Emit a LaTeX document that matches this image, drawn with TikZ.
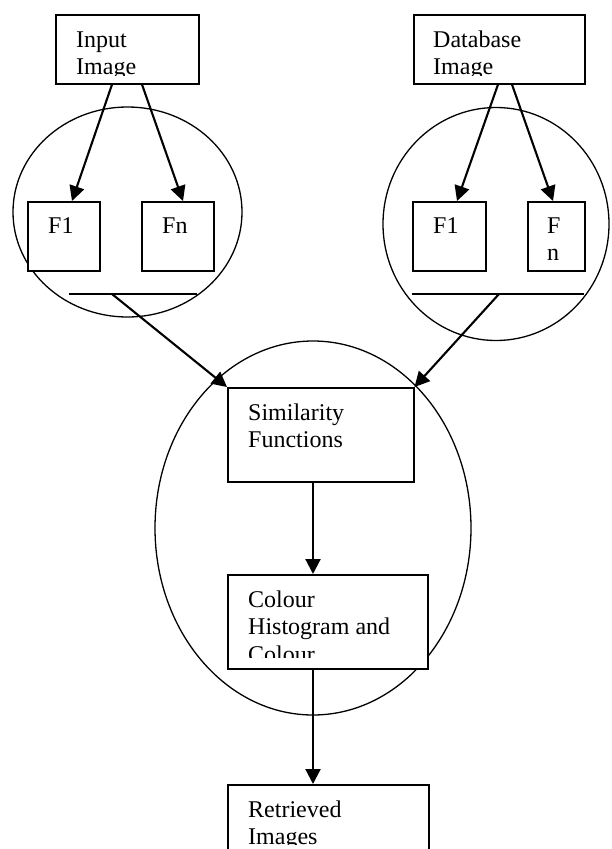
\documentclass[tikz,border=0pt]{standalone}
\usepackage{fontspec}
\setmainfont{Liberation Serif}
\usetikzlibrary{arrows.meta,shapes.geometric}
\begin{document}
\begin{tikzpicture}[x=1pt,y=-1pt,
  box/.style={draw,line width=1.5pt,fill=white,rectangle,inner sep=0pt,anchor=north west},
  oval/.style={draw,ellipse,line width=1.3pt,inner sep=0pt},
  lbl/.style={anchor=base west,inner sep=0pt,font=\fontsize{24}{27.6}\selectfont},
  arr/.style={line width=2.1pt,-{Triangle[length=15pt,width=15pt]}},
  bar/.style={line width=1.5pt}]
\useasboundingbox (0,0) rectangle (611,849);
\clip (0,0) rectangle (611,849);
% ellipses
\node[oval,minimum width=229pt,minimum height=210pt] (el1) at (127.5,212) {};
\node[oval,minimum width=226pt,minimum height=233pt] (el2) at (496,224) {};
\node[oval,minimum width=316pt,minimum height=374pt] (el3) at (313,528) {};
% boxes
\node[box,minimum width=143pt,minimum height=69pt] (inp) at (55,14) {};
\node[box,minimum width=171pt,minimum height=69pt] (db) at (413,14) {};
\node[box,minimum width=72pt,minimum height=69pt] (f1l) at (27,201) {};
\node[box,minimum width=72pt,minimum height=69pt] (fnl) at (141,201) {};
\node[box,minimum width=73pt,minimum height=69pt] (f1r) at (412,201) {};
\node[box,minimum width=57pt,minimum height=69pt] (fnr) at (527,201) {};
\node[box,minimum width=186pt,minimum height=94pt] (sim) at (227,387) {};
\node[box,minimum width=200pt,minimum height=94pt] (col) at (227,574) {};
\node[box,minimum width=201pt,minimum height=80pt] (ret) at (227,784) {};
% texts
\begin{scope}
  \clip (55,14) rectangle (198,75);
  \node[lbl] (tinp) at (76,47) {\vtop{\hbox{Input}\hbox{Image}}};
\end{scope}
\begin{scope}
  \clip (413,14) rectangle (584,75);
  \node[lbl] (tdb) at (433,47) {\vtop{\hbox{Database}\hbox{Image}}};
\end{scope}
\node[lbl] (tf1l) at (48,233) {F1};
\node[lbl] (tfnl) at (162,233) {Fn};
\node[lbl] (tf1r) at (433,233) {F1};
\node[lbl] (tfnr) at (547,233) {\vtop{\hbox{F}\hbox{n}}};
\node[lbl] (tsim) at (248,420) {\vtop{\hbox{Similarity}\hbox{Functions}}};
\begin{scope}
  \clip (227,574) rectangle (427,657);
  \node[lbl] (tcol) at (248,607) {\vtop{\hbox{Colour}\hbox{Histogram and}\hbox{Colour}}};
\end{scope}
\begin{scope}
  \clip (227,784) rectangle (428,844);
  \node[lbl] (tret) at (248,817) {\vtop{\hbox{Retrieved}\hbox{Images}}};
\end{scope}
% horizontal bars
\coordinate (la) at (69,294);
\coordinate (lb) at (197,294);
\coordinate (lm) at (112,294);
\coordinate (ra) at (412,294);
\coordinate (rb) at (584,294);
\coordinate (rm) at (499,294);
\draw[bar] (la) -- (lb);
\draw[bar] (ra) -- (rb);
% arrows
\draw[arr] ([xshift=57pt]inp.south west) -- ([xshift=45pt]f1l.north west);
\draw[arr] ([xshift=87pt]inp.south west) -- ([xshift=42pt]fnl.north west);
\draw[arr] ([xshift=85pt]db.south west) -- ([xshift=45pt]f1r.north west);
\draw[arr] ([xshift=99pt]db.south west) -- ([xshift=26pt]fnr.north west);
\draw[arr] (lm) -- (sim.north west);
\draw[arr] (rm) -- (sim.north east);
\draw[arr] ([xshift=86pt]sim.south west) -- ([xshift=86pt]col.north west);
\draw[arr] ([xshift=86pt]col.south west) -- ([xshift=86pt]ret.north west);
\end{tikzpicture}
\end{document}
